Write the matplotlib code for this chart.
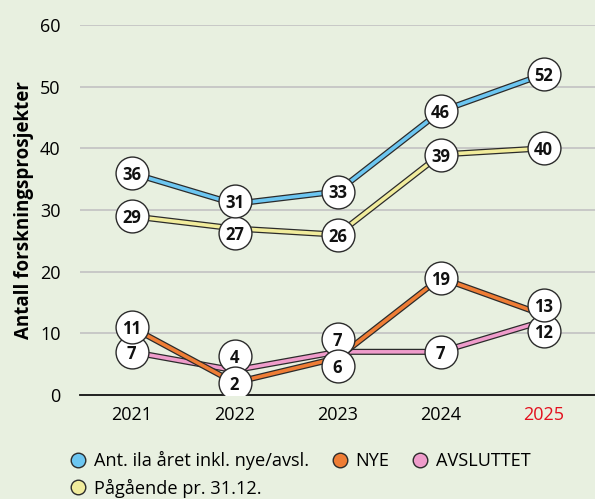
import matplotlib
matplotlib.use("Agg")
import matplotlib.pyplot as plt
from matplotlib.transforms import offset_copy
import matplotlib.patheffects as pe
from matplotlib.lines import Line2D

plt.rcParams['font.family'] = ['Open Sans', 'DejaVu Sans']

years = ["2021", "2022", "2023", "2024", "2025"]
ant_total = [36, 31, 33, 46, 52]
pagaende = [29, 27, 26, 39, 40]
nye = [11, 2, 6, 19, 13]
avsluttet = [7, 4, 7, 7, 12]

series_names = ["Ant. ila året inkl. nye/avsl.", "NYE", "AVSLUTTET", "Pågående pr. 31.12."]

# label nudges (points) to keep value bubbles from overlapping
nudge_ant = [0, 2, 0, 0, 0]
nudge_pag = [0, -3, 0, 0, 0]
nudge_nye = [0, 0, -6, 0, 7]
nudge_avs = [0, 10, 9, 0, -7]

BG = "#e8f0e0"
col_blue = "#6cc6f1"
col_yellow = "#f1ec9c"
col_orange = "#ef7d35"
col_pink = "#ef9ccb"
OUTLINE = "#2b2b2b"

fig = plt.figure(figsize=(5.95, 4.99), dpi=100, facecolor=BG)
ax = fig.add_axes([80/595, 1 - 395/499, 1 - 80/595, (395 - 25)/499])
ax.set_facecolor(BG)

x = list(range(len(years)))
ax.set_xlim(-0.5, len(years) - 0.5)
ax.set_ylim(0, 60)

for yv in [10, 20, 30, 40, 50, 60]:
    ax.axhline(yv, color="#c2c2c2", lw=1.2, zorder=0)
ax.axhline(0, color="#111111", lw=1.3, zorder=1, clip_on=False)

def draw_series(vals, color, nudges, z):
    ax.plot(x, vals, color=color, lw=2.6, zorder=z, solid_capstyle="butt",
            path_effects=[pe.Stroke(linewidth=4.4, foreground=OUTLINE), pe.Normal()])
    for xi, v, dy in zip(x, vals, nudges):
        tr = offset_copy(ax.transData, fig=fig, x=0, y=dy, units="points")
        ax.scatter([xi], [v], s=560, facecolor="white", edgecolor=OUTLINE,
                   linewidth=1.0, transform=tr, zorder=z + 10)
        ax.text(xi, v, str(v), transform=tr, ha="center", va="center_baseline",
                fontsize=12, fontweight="bold", color="#111111", zorder=z + 11)

draw_series(pagaende, col_yellow, nudge_pag, 2)
draw_series(ant_total, col_blue, nudge_ant, 3)
draw_series(avsluttet, col_pink, nudge_avs, 4)
draw_series(nye, col_orange, nudge_nye, 5)

ax.set_xticks(x)
ax.set_xticklabels(years, fontsize=13)
ax.get_xticklabels()[-1].set_color("#e3101e")
ax.set_yticks([0, 10, 20, 30, 40, 50, 60])
ax.set_yticklabels(["0", "10", "20", "30", "40", "50", "60"], fontsize=13)
ax.tick_params(length=0, pad=8)
ax.tick_params(axis="y", pad=14)
for s in ax.spines.values():
    s.set_visible(False)

ax.set_ylabel("Antall forskningsprosjekter", fontsize=13.5, fontweight="bold")
ax.yaxis.set_label_coords(-0.09, 0.5)

def handle(c):
    return Line2D([], [], marker="o", linestyle="none", markersize=10.5,
                  markerfacecolor=c, markeredgecolor=OUTLINE, markeredgewidth=1.0)

handles = [handle(col_blue), handle(col_yellow), handle(col_orange), handle(col_pink)]
labels = [series_names[0], series_names[3], series_names[1], series_names[2]]
fig.legend(handles, labels, loc="upper left", bbox_to_anchor=(62/595, 1 - 444/499),
           ncol=3, frameon=False, fontsize=13.1, handletextpad=0.35,
           columnspacing=1.2, labelspacing=0.45, handlelength=1.0, borderaxespad=0)

fig.savefig("out.png", dpi=100, facecolor=BG)
